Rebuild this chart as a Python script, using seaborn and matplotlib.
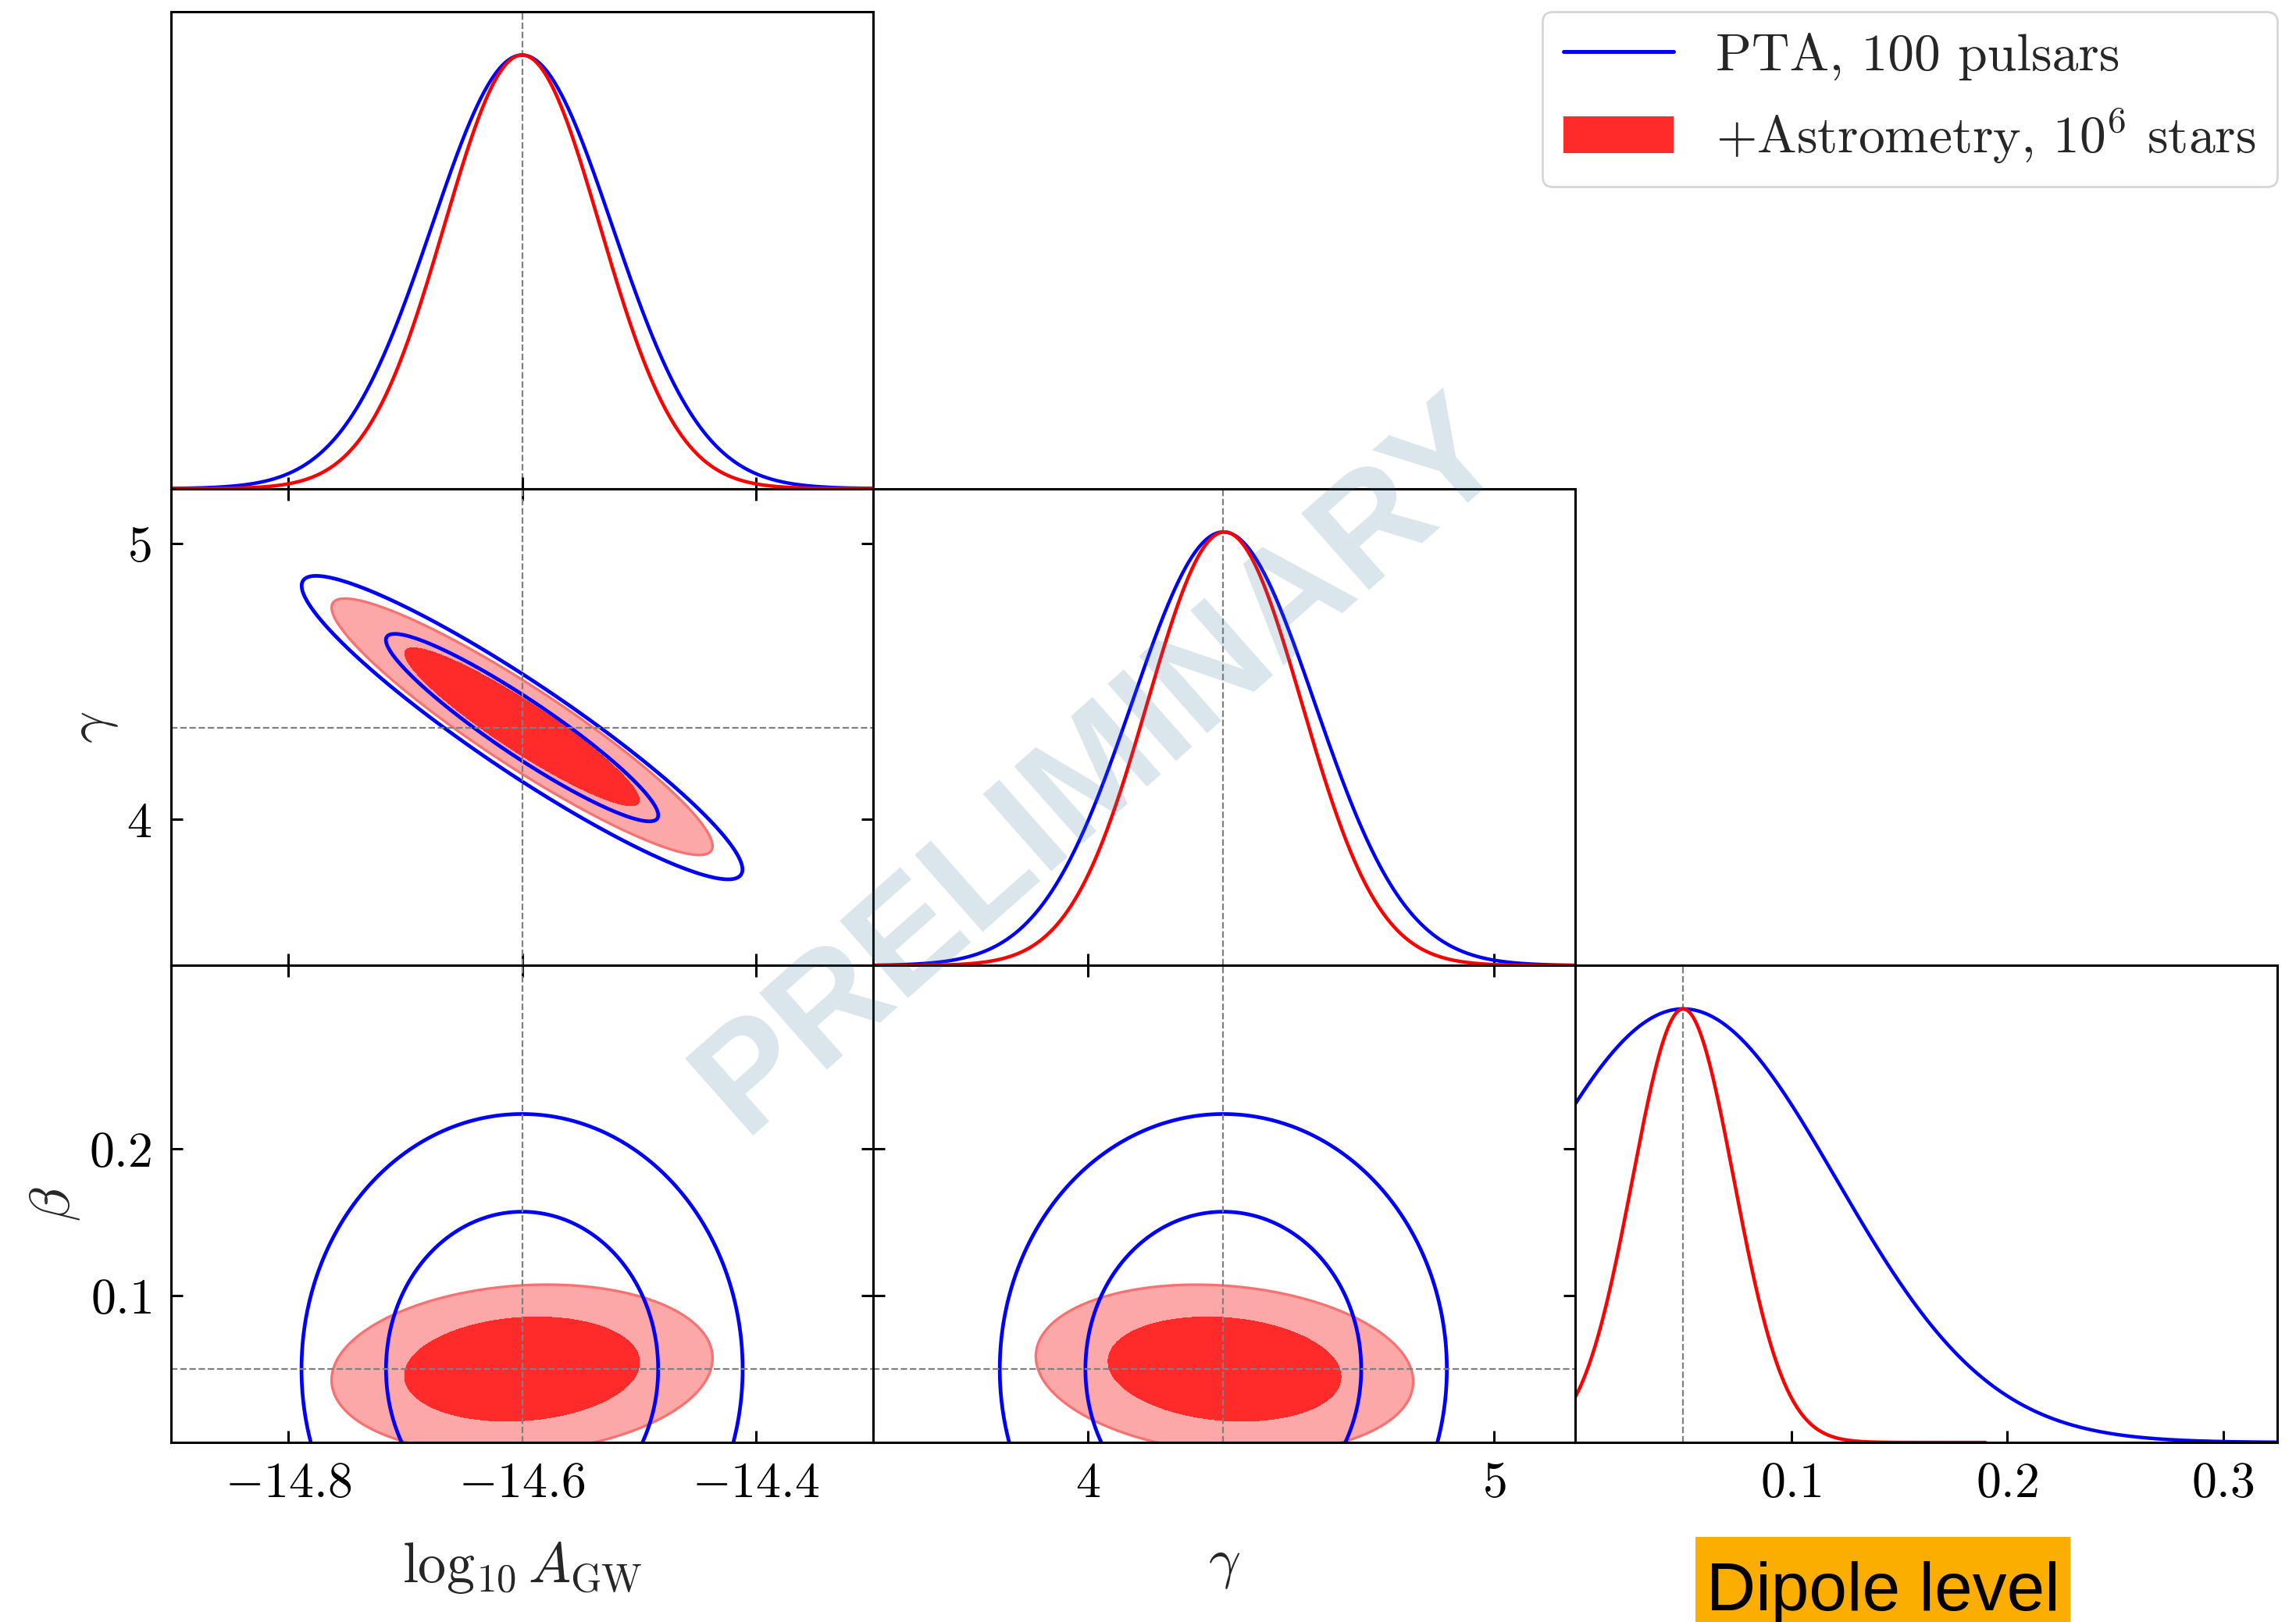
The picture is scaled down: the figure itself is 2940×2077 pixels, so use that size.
import numpy as np
import matplotlib
matplotlib.use("Agg")
import matplotlib.pyplot as plt
from matplotlib.patches import Rectangle, Patch
from matplotlib.lines import Line2D
import seaborn as sns

# Parameter order: log10 A_GW, gamma, beta
LABELS = [r"$\log_{10} A_{\rm GW}$", r"$\gamma$", r"$\beta$"]
TRUTHS = [-14.6, 4.333, 0.05]
LIMITS = [(-14.9, -14.3), (3.47, 5.2), (0.0, 0.325)]

X_TICKS = [[-14.8, -14.6, -14.4], [4, 5], [0.1, 0.2, 0.3]]
X_TICK_LABELS = [[r"$-14.8$", r"$-14.6$", r"$-14.4$"], [r"$4$", r"$5$"], [r"$0.1$", r"$0.2$", r"$0.3$"]]
Y_TICKS = [None, [4, 5], [0.1, 0.2]]
Y_TICK_LABELS = [None, [r"$4$", r"$5$"], [r"$0.1$", r"$0.2$"]]

# Posterior summaries (Gaussian approximations)
PTA_MEAN = [-14.6, 4.333, 0.05]
PTA_SIGMA = [0.077, 0.225, 0.071]
PTA_CORR = [[1.0, -0.935, 0.0],
            [-0.935, 1.0, 0.0],
            [0.0, 0.0, 1.0]]

ASTRO_MEAN = [-14.6, 4.336, 0.05]
ASTRO_SIGMA = [0.0665, 0.19, 0.0235]
ASTRO_CORR = [[1.0, -0.93, 0.13],
              [-0.93, 1.0, -0.15],
              [0.13, -0.15, 1.0]]
# the red beta marginal is only drawn up to this value
ASTRO_XMAX = [None, None, 0.19]

MASSES = [0.68, 0.95]

BLUE = "#0000FF"
RED = "#FF0000"
RED_DARK = "#FF2A2A"
RED_LIGHT = "#FCA8A8"
RED_EDGE = "#F87272"

sns.set_theme(style="ticks", rc={
    "axes.edgecolor": "black",
    "axes.linewidth": 1.1,
    "xtick.color": "black",
    "ytick.color": "black",
    "xtick.direction": "in",
    "ytick.direction": "in",
    "xtick.major.size": 5.5,
    "ytick.major.size": 5.5,
    "xtick.major.width": 1.1,
    "ytick.major.width": 1.1,
    "xtick.major.pad": 9,
    "ytick.major.pad": 9,
})
plt.rcParams["font.family"] = ["cmr10"]
plt.rcParams["mathtext.fontset"] = "cm"
plt.rcParams["axes.unicode_minus"] = False


def gauss1d(mean, sigma, i, lo, hi, n=600):
    x = np.linspace(lo, hi, n)
    y = np.exp(-0.5 * ((x - mean[i]) / sigma[i]) ** 2)
    return x, y


def gauss2d(mean, sigma, corr, i, j, n=400):
    mx, my = mean[i], mean[j]
    sx, sy = sigma[i], sigma[j]
    r = corr[i][j]
    x = np.linspace(mx - 5 * sx, mx + 5 * sx, n)
    y = np.linspace(my - 5 * sy, my + 5 * sy, n)
    X, Y = np.meshgrid(x, y)
    u = (X - mx) / sx
    v = (Y - my) / sy
    z = np.exp(-(u * u - 2 * r * u * v + v * v) / (2 * (1 - r * r)))
    return X, Y, z


def hpd_levels(z, masses):
    flat = np.sort(z.ravel())[::-1]
    cum = np.cumsum(flat) / flat.sum()
    return [flat[np.searchsorted(cum, m)] for m in masses]


fig, axes = plt.subplots(3, 3, figsize=(14.7, 10.385), dpi=200,
                         gridspec_kw=dict(wspace=0, hspace=0))
fig.subplots_adjust(left=0.0745, right=0.9918, top=0.9928, bottom=0.1107)

for row in range(3):
    for col in range(3):
        ax = axes[row, col]
        if col > row:
            ax.axis("off")
            continue
        ax.set_xlim(LIMITS[col])
        ax.set_xticks(X_TICKS[col])
        ax.set_xticklabels(X_TICK_LABELS[col], fontsize=23)

        if row == col:
            # 1D marginal
            lo, hi = LIMITS[col]
            x, y = gauss1d(PTA_MEAN, PTA_SIGMA, col, lo, hi)
            sns.lineplot(x=x, y=y, ax=ax, color=BLUE, linewidth=1.6,
                         estimator=None, sort=False)
            hi_r = ASTRO_XMAX[col] if ASTRO_XMAX[col] is not None else hi
            x, y = gauss1d(ASTRO_MEAN, ASTRO_SIGMA, col, lo, hi_r)
            sns.lineplot(x=x, y=y, ax=ax, color=RED, linewidth=1.6,
                         estimator=None, sort=False)
            ax.axvline(TRUTHS[col], color="gray", ls="--", lw=0.8, zorder=0)
            ax.set_ylim(0, 1.1)
            ax.set_yticks([])
            ax.tick_params(axis="x", bottom=True, top=False,
                           labelbottom=(row == 2))
        else:
            X, Y, z = gauss2d(ASTRO_MEAN, ASTRO_SIGMA, ASTRO_CORR, col, row)
            l68, l95 = hpd_levels(z, MASSES)
            ax.contourf(X, Y, z, levels=[l95, l68, z.max() * 1.01],
                        colors=[RED_LIGHT, RED_DARK])
            ax.contour(X, Y, z, levels=[l95], colors=[RED_EDGE], linewidths=1.2)

            X, Y, z = gauss2d(PTA_MEAN, PTA_SIGMA, PTA_CORR, col, row)
            l68, l95 = hpd_levels(z, MASSES)
            ax.contour(X, Y, z, levels=[l95, l68], colors=[BLUE], linewidths=1.7)

            ax.axvline(TRUTHS[col], color="gray", ls="--", lw=0.8)
            ax.axhline(TRUTHS[row], color="gray", ls="--", lw=0.8)
            ax.set_ylim(LIMITS[row])
            ax.set_yticks(Y_TICKS[row])
            ax.set_yticklabels(Y_TICK_LABELS[row], fontsize=23)
            ax.tick_params(axis="both", bottom=True, top=True, left=True,
                           right=True, labelbottom=(row == 2),
                           labelleft=(col == 0))

        ax.set_xlabel("")
        ax.set_ylabel("")
        if row == 2:
            ax.set_xlabel(LABELS[col], fontsize=26, labelpad=15)
        if col == 0 and row > 0:
            ax.set_ylabel(LABELS[row], fontsize=26, labelpad=3)

handles = [Line2D([], [], color=BLUE, lw=1.8),
           Patch(facecolor=RED_DARK, edgecolor="none")]
fig.legend(handles, ["PTA, 100 pulsars", r"+Astrometry, $10^6$ stars"],
           loc="upper right", bbox_to_anchor=(0.9918, 0.9928),
           fontsize=24.3, frameon=True, handlelength=2.1, handletextpad=0.8,
           borderaxespad=0)

# watermark
fig.text(0.4795, 0.5275, "PRELIMINARY", rotation=41.5, ha="center", va="center",
         rotation_mode="anchor", fontsize=69, fontweight="bold",
         family="Liberation Sans", color="#467DA0", alpha=0.2, zorder=10)

# orange tag over the beta axis label
fig.patches.append(Rectangle((0.7385, 0.0), 0.1633, 0.0523,
                             transform=fig.transFigure, facecolor="#FCAE00",
                             edgecolor="none", zorder=5))
fig.text(0.7433, 0.0072, "Dipole level", ha="left", va="baseline",
         fontsize=31.5, family="Liberation Sans", color="black", zorder=6)

fig.savefig("out.png", dpi=200)
